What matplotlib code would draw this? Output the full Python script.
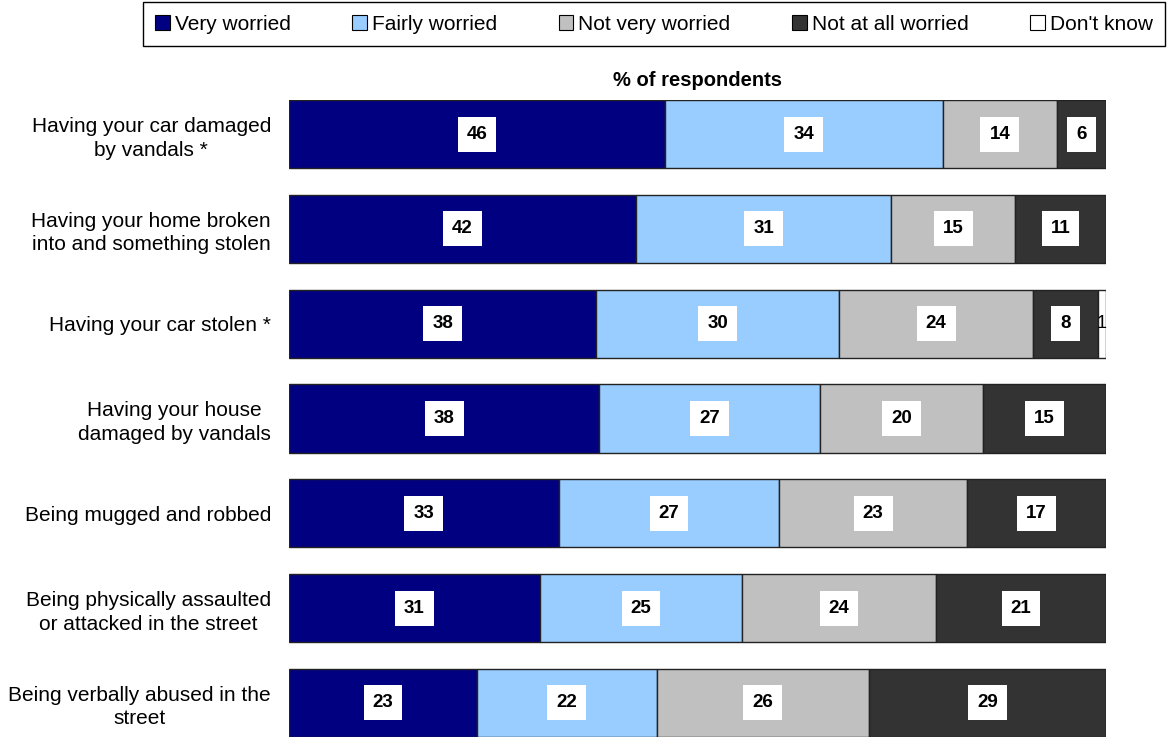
import numpy as np
import matplotlib.pyplot as plt
from matplotlib.patches import Patch

plt.rcParams['font.family'] = ['Liberation Sans', 'DejaVu Sans']

categories = [
    'Having your car damaged\nby vandals *',
    'Having your home broken\ninto and something stolen',
    'Having your car stolen *',
    'Having your house\ndamaged by vandals',
    'Being mugged and robbed',
    'Being physically assaulted\nor attacked in the street',
    'Being verbally abused in the\nstreet',
]
series_names = ['Very worried', 'Fairly worried', 'Not very worried',
                'Not at all worried', "Don't know"]
very_worried = [46, 42, 38, 38, 33, 31, 23]
fairly_worried = [34, 31, 30, 27, 27, 25, 22]
not_very_worried = [14, 15, 24, 20, 23, 24, 26]
not_at_all_worried = [6, 11, 8, 15, 17, 21, 29]
dont_know = [0, 0, 1, 0, 0, 0, 0]

colors = ['#000080', '#99CCFF', '#C0C0C0', '#333333', '#FFFFFF']

data = np.array([very_worried, fairly_worried, not_very_worried,
                 not_at_all_worried, dont_know], dtype=float)
# 100% stacked: each row scaled to its own total
shares = data / data.sum(axis=0) * 100

fig = plt.figure(figsize=(11.68, 7.4), dpi=100)
ax = fig.add_axes([289 / 1168, 3 / 740, 817 / 1168, 637 / 740])

y = np.arange(len(categories))
left = np.zeros(len(categories))
for i, name in enumerate(series_names):
    ax.barh(y, shares[i], left=left, height=0.72, color=colors[i],
            edgecolor='#222222', linewidth=1.0, label=name)
    for j in range(len(categories)):
        if data[i, j] > 0:
            xc = left[j] + shares[i, j] / 2
            if name == "Don't know":
                ax.text(xc, y[j], f'{int(data[i, j])}', ha='center', va='center',
                        fontsize=13)
            else:
                ax.text(xc, y[j], f'{int(data[i, j])}', ha='center', va='center',
                        fontsize=13.5, fontweight='bold',
                        bbox=dict(facecolor='white', edgecolor='none', pad=6.5))
    left += shares[i]

ax.set_xlim(0, 100)
ax.set_ylim(len(categories) - 1 + 0.36, -0.36)
ax.set_yticks(y)
ax.set_yticklabels(categories, fontsize=15, multialignment='center',
                   linespacing=1.3)
ax.tick_params(axis='y', length=0, pad=13)
ax.set_xticks([])
for s in ax.spines.values():
    s.set_visible(False)

ax.set_title('% of respondents', fontsize=14.5, fontweight='bold', pad=10)

handles = [Patch(facecolor=c, edgecolor='black', linewidth=0.8) for c in colors]
leg = fig.legend(handles, series_names, loc='center', ncol=5,
                 bbox_to_anchor=(654 / 1168, 1 - 24 / 740),
                 fontsize=15, frameon=True, fancybox=False,
                 edgecolor='black', framealpha=1,
                 handlelength=0.7, handleheight=0.7, handletextpad=0.25,
                 columnspacing=2.95, borderpad=0.6)
leg.get_frame().set_linewidth(1.0)

fig.savefig('out.png', dpi=100)
